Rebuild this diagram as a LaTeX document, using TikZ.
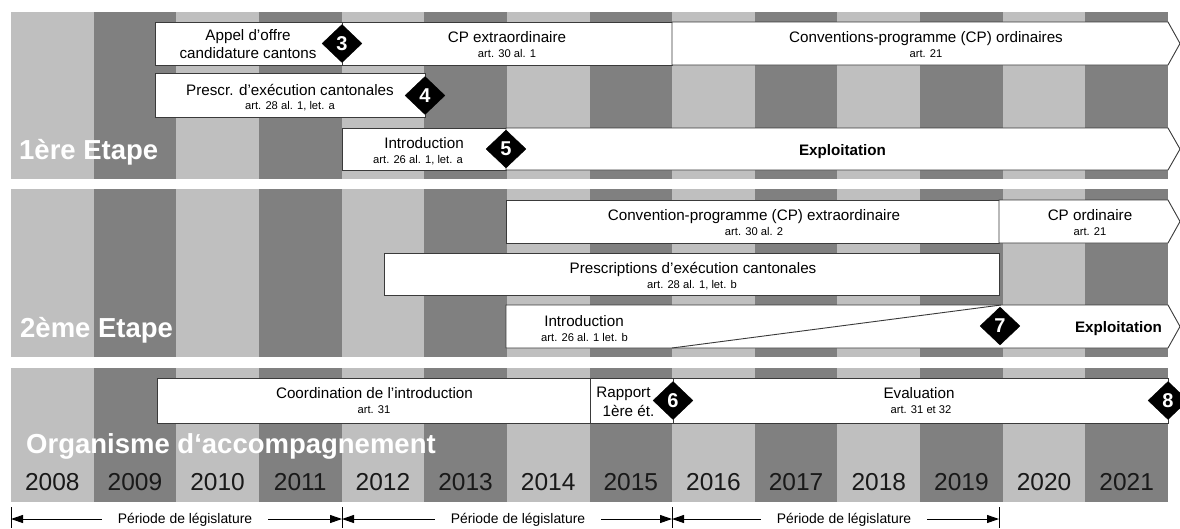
\documentclass[tikz,border=0pt]{standalone}
\usepackage{fontspec}
\setmainfont{Liberation Sans}
\usetikzlibrary{shapes.geometric,arrows.meta}
\definecolor{lightg}{HTML}{BFBFBF}
\definecolor{darkg}{HTML}{808080}
\definecolor{edge}{HTML}{3A3A3A}
\begin{document}
\begin{tikzpicture}[x=1pt,y=-1pt,
 box/.style={draw=edge, line width=0.9pt, fill=white},
 boxat/.style={box, anchor=north west, inner sep=0pt},
 lab/.style={anchor=base, inner sep=0pt, font=\fontsize{15.2}{18}\selectfont},
 boldlab/.style={anchor=base, inner sep=0pt, font=\fontsize{15.2}{18}\selectfont\bfseries},
 art/.style={anchor=base, inner sep=0pt, font=\fontsize{11.2}{13}\selectfont},
 stage/.style={anchor=base west, inner sep=0pt, text=white, font=\fontsize{27.5}{30}\selectfont\bfseries},
 year/.style={anchor=base, inner sep=0pt, text=black!90, font=\fontsize{24.5}{28}\selectfont},
 milestone/.style={diamond, fill=black, draw=black, inner sep=0pt, minimum width=40pt, minimum height=38pt, text=white, font=\fontsize{20}{22}\selectfont\bfseries},
 period/.style={anchor=base, inner xsep=16pt, inner ysep=1pt, fill=white, font=\fontsize{13.9}{16}\selectfont},
 tickline/.style={line width=0.9pt},
 legis/.style={line width=1pt, {Triangle[length=12pt,width=8pt]}-{Triangle[length=12pt,width=8pt]}}
]
\useasboundingbox (0,0) rectangle (1180,528);
\fill[white] (0,0) rectangle (1180,528);
% stripes
\foreach \i in {0,...,13}{
  \pgfmathsetmacro{\xa}{11+\i*82.643}
  \pgfmathsetmacro{\xb}{11+(\i+1)*82.643}
  \ifodd\i \def\col{darkg}\else\def\col{lightg}\fi
  \foreach \ya/\yb in {12/179,189/357,368/502}{
    \fill[\col] (\xa,\ya) rectangle (\xb,\yb);
  }
}
% years
\foreach \y [count=\k from 0] in {2008,...,2021}{
  \node[year] (y\y) at ({11+(\k+0.5)*82.643},490) {\y};
}
% ---- Stage 1
\node[boxat, minimum width=187pt, minimum height=43pt] (appel) at (155,22) {};
\node[boxat, minimum width=330pt, minimum height=43pt] (cpx1) at (342,22) {};
\draw[box] (672,22) -- (1168,22) -- (1180,43.5) -- (1168,65) -- (672,65) -- cycle;
\node[boxat, minimum width=270pt, minimum height=44pt] (prescr1) at (155,73) {};
\node[boxat, minimum width=164pt, minimum height=42pt] (intro1) at (342,128) {};
\draw[box] (506,128) -- (1168,128) -- (1180,149) -- (1168,170) -- (506,170) -- cycle;

\node[lab] (t1a) at (248,40) {Appel d’offre};
\node[lab] (t1b) at (248,58) {candidature cantons};
\node[lab] (t2) at (507,42) {CP extraordinaire};
\node[art] (a2) at (507,57) {art. 30 al. 1};
\node[lab] (t3) at (926,42) {Conventions-programme (CP) ordinaires};
\node[art] (a3) at (926,57) {art. 21};
\node[lab] (t4) at (290,95) {Prescr. d’exécution cantonales};
\node[art] (a4) at (290,109) {art. 28 al. 1, let. a};
\node[lab] (t5) at (424,148) {Introduction};
\node[art] (a5) at (418,163) {art. 26 al. 1, let. a};
\node[boldlab] (t6) at (842.5,155) {Exploitation};

% ---- Stage 2
\node[boxat, minimum width=493pt, minimum height=43pt] (cpx2) at (506,200) {};
\draw[box] (999,200) -- (1168,200) -- (1180,221.5) -- (1168,243) -- (999,243) -- cycle;
\node[boxat, minimum width=615pt, minimum height=42pt] (prescr2) at (384,253) {};
\draw[box] (506,305) -- (1168,305) -- (1180,326.5) -- (1168,348) -- (506,348) -- cycle;
\coordinate (d1) at (672,348);
\coordinate (d2) at (1001,305);
\draw[edge, line width=0.9pt] (d1) -- (d2);

\node[lab] (u1) at (754,220) {Convention-programme (CP) extraordinaire};
\node[art] (b1) at (754,235) {art. 30 al. 2};
\node[lab] (u2) at (1090,220) {CP ordinaire};
\node[art] (b2) at (1090,235) {art. 21};
\node[lab] (u3) at (693,273) {Prescriptions d’exécution cantonales};
\node[art] (b3) at (692,288) {art. 28 al. 1, let. b};
\node[lab] (u4) at (584,326) {Introduction};
\node[art] (b4) at (584.5,341) {art. 26 al. 1 let. b};
\node[boldlab] (u5) at (1118.5,332) {Exploitation};

% ---- Stage 3
\node[boxat, minimum width=433pt, minimum height=45pt] (coord) at (157,378) {};
\node[boxat, minimum width=83pt, minimum height=45pt] (rapport) at (590,378) {};
\node[boxat, minimum width=495pt, minimum height=45pt] (eval) at (673,378) {};

\node[lab] (v1) at (374.5,398) {Coordination de l’introduction};
\node[art] (c1) at (374,413) {art. 31};
\node[lab] (v2) at (623.5,397) {Rapport};
\node[lab] (v3) at (628.5,416) {1ère ét.};
\node[lab] (v4) at (919,398) {Evaluation};
\node[art] (c4) at (921,413) {art. 31 et 32};

% ---- milestones
\node[milestone] (m3) at (342,43.5) {3};
\node[milestone] (m4) at (425,95.5) {4};
\node[milestone] (m5) at (506,149) {5};
\node[milestone] (m6) at (673,400.5) {6};
\node[milestone] (m7) at (1000,326) {7};
\node[milestone] (m8) at (1168,400.5) {8};

% ---- stage labels
\node[stage] (s1) at (19,159) {1ère Etape};
\node[stage] (s2) at (20,337) {2ème Etape};
\node[stage] (s3) at (26,453) {Organisme d‘accompagnement};

% ---- legislature periods
\coordinate (L0) at (11,519);
\coordinate (L1) at (342,519);
\coordinate (L2) at (672,519);
\coordinate (L3) at (999,519);
\foreach \c in {L0,L1,L2,L3}{
  \draw[tickline] ([yshift=12pt]\c) -- ([yshift=-9pt]\c);
}
\draw[legis] (L0) -- (L1);
\draw[legis] (L1) -- (L2);
\draw[legis] (L2) -- (L3);
\node[period] (p1) at (185,523.5) {Période de législature};
\node[period] (p2) at (518,523.5) {Période de législature};
\node[period] (p3) at (844,523.5) {Période de législature};
\end{tikzpicture}
\end{document}
